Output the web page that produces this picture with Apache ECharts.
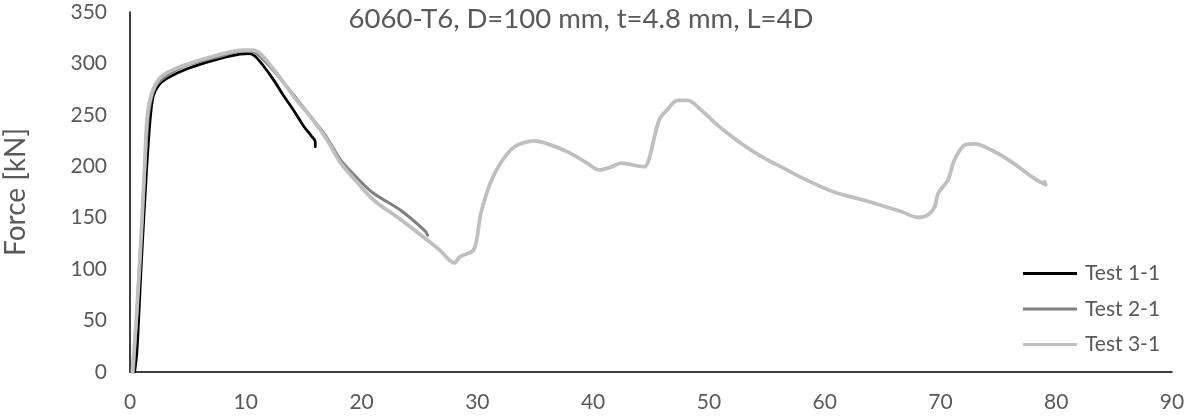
<!DOCTYPE html>
<html>
<head>
<meta charset="utf-8">
<script src="https://cdn.jsdelivr.net/npm/echarts@6/dist/echarts.min.js"></script>
<style>
  html, body { margin: 0; padding: 0; background: #ffffff; }
  #chart { width: 1186px; height: 417px; }
</style>
</head>
<body>
<div id="chart"></div>
<script>
// Crush test of 6060-T6 tube: displacement [mm] vs force [kN]
const titleText = '6060-T6, D=100 mm, t=4.8 mm, L=4D';
const yAxisTitle = 'Force [kN]';
const seriesNames = ['Test 1-1', 'Test 2-1', 'Test 3-1'];

const xTicks = { min: 0, max: 90, interval: 10 };
const yTicks = { min: 0, max: 350, interval: 50 };

const test11 = [
  [0.4, 0], [0.6, 20], [1.0, 110], [1.4, 190], [1.7, 240], [2.0, 268], [2.5, 279],
  [3.2, 285.5], [5.0, 295], [7.5, 304], [9.5, 309], [10.3, 309.5], [10.8, 307],
  [11.5, 298], [12.4, 284], [13.3, 268], [14.1, 255], [15.0, 239], [15.7, 229],
  [16.0, 224], [16.0, 219]
];

const test21 = [
  [0.3, 0], [0.8, 100], [1.3, 200], [1.6, 250], [2.0, 272], [2.6, 283], [4.6, 297],
  [7.5, 306], [9.8, 312], [10.6, 311.5], [11.5, 304], [12.7, 289], [14.5, 264],
  [16.2, 240], [17.0, 228], [18.2, 206], [19.5, 190], [21.0, 174], [23.4, 157],
  [25.5, 137], [25.7, 133]
];

const test31 = [
  [0.2, 0], [0.6, 60], [1.0, 140], [1.3, 210], [1.5, 250], [1.9, 272], [2.5, 285],
  [3.2, 291], [4.6, 298], [7.5, 308], [9.8, 313], [10.6, 313], [11.3, 309],
  [12.7, 290], [14.4, 264], [15.6, 248], [17.0, 226], [18.2, 203], [19.5, 186],
  [21.05, 167], [23.4, 148], [25.7, 128], [26.8, 118], [28.0, 106], [28.5, 112],
  [29.7, 119], [30.3, 154], [31.1, 183], [32.0, 203], [33.2, 219], [34.9, 224.6],
  [36.0, 222], [37.8, 214], [39.5, 203], [40.5, 196.4], [41.5, 199], [42.4, 203],
  [44.4, 199.6], [44.8, 206], [45.7, 245], [46.4, 255], [47.3, 264], [48.2, 264],
  [49.3, 255], [50.75, 240], [52.2, 227], [53.6, 216], [55.1, 206], [56.5, 198],
  [58.0, 189], [60.8, 175], [63.7, 166], [66.6, 156], [68.05, 150.4], [68.9, 152.6],
  [69.5, 160.7], [69.8, 173.7], [70.65, 186.7], [71.2, 206], [72.1, 220.7],
  [72.95, 221.7], [74.4, 215.8], [76.1, 204.5], [78.1, 188.3], [79.1, 182], [79.0, 185]
];

const seriesData = [test11, test21, test31];
const seriesColors = ['#000000', '#7f7f7f', '#bfbfbf'];
const seriesWidths = [2.75, 3, 3.75];

const textColor = '#595959';
const fontFamily = 'Lato, "Open Sans", sans-serif';

const chart = echarts.init(document.getElementById('chart'), null, { renderer: 'canvas' });

chart.setOption({
  backgroundColor: '#ffffff',
  animation: false,
  title: {
    text: titleText,
    left: 581,
    textAlign: 'center',
    top: 5,
    padding: 0,
    textStyle: { color: textColor, fontSize: 27.5, fontWeight: 'normal', fontFamily: fontFamily }
  },
  legend: {
    orient: 'vertical',
    left: 1023,
    top: 263,
    padding: 0,
    itemWidth: 54,
    itemHeight: 3,
    itemGap: 14.5,
    icon: 'rect',
    textStyle: { color: textColor, fontSize: 21, fontFamily: fontFamily, lineHeight: 21, padding: [0, 0, 0, 3] },
    data: seriesNames
  },
  grid: {
    left: 130, right: 14, top: 12, bottom: 45,
    containLabel: false,
    outerBoundsMode: 'none'
  },
  xAxis: {
    type: 'value',
    min: xTicks.min,
    max: xTicks.max,
    interval: xTicks.interval,
    axisLine: { show: true, onZero: true, lineStyle: { color: '#000000', width: 1.5 } },
    axisTick: { show: false },
    splitLine: { show: false },
    axisLabel: { color: textColor, fontSize: 21, fontFamily: fontFamily, margin: 20 }
  },
  yAxis: {
    type: 'value',
    min: yTicks.min,
    max: yTicks.max,
    interval: yTicks.interval,
    name: yAxisTitle,
    nameLocation: 'middle',
    nameGap: 100,
    nameTextStyle: { color: textColor, fontSize: 28, fontFamily: fontFamily },
    axisLine: { show: true, lineStyle: { color: '#000000', width: 1.5 } },
    axisTick: { show: false },
    splitLine: { show: false },
    axisLabel: { color: textColor, fontSize: 21, fontFamily: fontFamily, margin: 23 }
  },
  series: seriesNames.map((name, i) => ({
    name: name,
    type: 'line',
    data: seriesData[i],
    showSymbol: false,
    symbol: 'none',
    smooth: 0.3,
    color: seriesColors[i],
    lineStyle: { color: seriesColors[i], width: seriesWidths[i], cap: 'round', join: 'round' },
    z: 2 + i
  }))
});
</script>
</body>
</html>
